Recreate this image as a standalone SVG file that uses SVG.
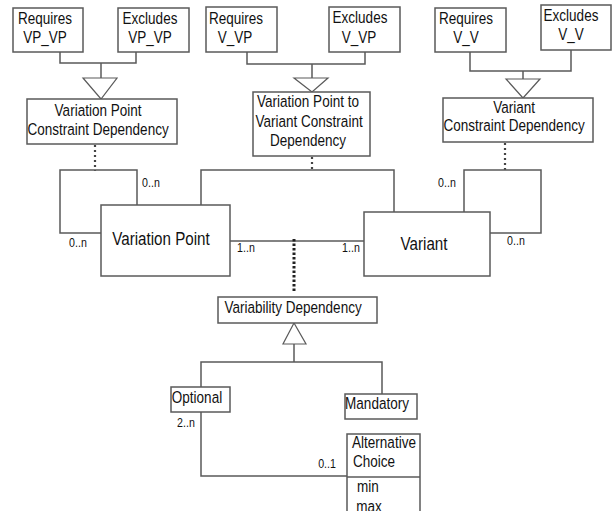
<svg xmlns="http://www.w3.org/2000/svg" width="616" height="511" viewBox="0 0 616 511">
<style>
  .box { fill: #fff; stroke: #5a5a5a; stroke-width: 1.5; }
  .ln { fill: none; stroke: #5a5a5a; stroke-width: 1.5; }
  .tri { fill: #fff; stroke: #5a5a5a; stroke-width: 1.2; }
  .dot { fill: none; stroke: #444; stroke-width: 2.2; stroke-dasharray: 2 3; }
  .dot2 { fill: none; stroke: #222; stroke-width: 3; stroke-dasharray: 2.5 2; }
  text { font-family: "Liberation Sans", Arial, sans-serif; fill: #111; text-anchor: middle;
         transform-box: fill-box; transform-origin: center; transform: scaleX(0.82); }
  .t { font-size: 16.5px; }
  .big { font-size: 18.5px; }
  .s { font-size: 13px; }
</style>
<rect width="616" height="511" fill="#fff"/>

<g id="connectors">
  <polyline class="ln" points="60,52 60,63 136,63 136,52"/>
  <line class="ln" x1="101" y1="63" x2="101" y2="78"/>
  <polygon class="tri" points="83,78 117,78 101,99"/>
  <polyline class="ln" points="247,52 247,64 365,64 365,52"/>
  <line class="ln" x1="312" y1="64" x2="312" y2="78"/>
  <polygon class="tri" points="294,78 328,78 312,92"/>
  <polyline class="ln" points="470,52 470,71 571,71 571,50"/>
  <line class="ln" x1="523" y1="71" x2="523" y2="79"/>
  <polygon class="tri" points="506,79 540,79 523,98"/>
  <line class="dot" x1="95" y1="145" x2="95" y2="171"/>
  <line class="dot" x1="312" y1="157" x2="312" y2="171"/>
  <line class="dot" x1="505" y1="143" x2="505" y2="171"/>
  <polyline class="ln" points="137,205 137,170 60,170 60,233 101,233"/>
  <polyline class="ln" points="201,205 201,170 394,170 394,212"/>
  <polyline class="ln" points="464,212 464,170 541,170 541,233 490,233"/>
  <line class="ln" x1="230" y1="241" x2="364" y2="241"/>
  <line class="dot2" x1="294" y1="239" x2="294" y2="293"/>
  <line class="ln" x1="294" y1="344" x2="294" y2="362"/>
  <polygon class="tri" points="294,323 283,344 306,344"/>
  <polyline class="ln" points="201,387 201,362 382,362 382,394"/>
  <polyline class="ln" points="201,412 201,476 347,476"/>
</g>

<g id="requires-vp-vp"><rect class="box" x="13" y="8" width="70" height="44"/>
  <text class="t" x="45" y="24">Requires</text><text class="t" x="45" y="43">VP_VP</text></g>
<g id="excludes-vp-vp"><rect class="box" x="118" y="8" width="71" height="44"/>
  <text class="t" x="150" y="24">Excludes</text><text class="t" x="150" y="43">VP_VP</text></g>
<g id="requires-v-vp"><rect class="box" x="206" y="7" width="71" height="45"/>
  <text class="t" x="236" y="24">Requires</text><text class="t" x="235" y="43">V_VP</text></g>
<g id="excludes-v-vp"><rect class="box" x="329" y="7" width="71" height="45"/>
  <text class="t" x="360" y="23">Excludes</text><text class="t" x="359" y="43">V_VP</text></g>
<g id="requires-v-v"><rect class="box" x="435" y="8" width="71" height="44"/>
  <text class="t" x="466" y="24">Requires</text><text class="t" x="466" y="43">V_V</text></g>
<g id="excludes-v-v"><rect class="box" x="541" y="5" width="70" height="45"/>
  <text class="t" x="571" y="21">Excludes</text><text class="t" x="571" y="40">V_V</text></g>

<g id="vp-constraint"><rect class="box" x="27" y="99" width="150" height="45"/>
  <text class="t" x="98" y="116">Variation Point</text><text class="t" x="98" y="135">Constraint Dependency</text></g>
<g id="vp-variant-constraint"><rect class="box" x="253" y="92" width="117" height="64"/>
  <text class="t" x="308" y="107">Variation Point to</text><text class="t" x="309" y="127">Variant Constraint</text><text class="t" x="308" y="146">Dependency</text></g>
<g id="variant-constraint"><rect class="box" x="443" y="98" width="150" height="44"/>
  <text class="t" x="514" y="113">Variant</text><text class="t" x="514" y="131">Constraint Dependency</text></g>

<g id="variation-point"><rect class="box" x="101" y="205" width="129" height="71"/>
  <text class="big" x="161" y="245">Variation Point</text></g>
<g id="variant"><rect class="box" x="364" y="212" width="126" height="64"/>
  <text class="big" x="424" y="250">Variant</text></g>

<g id="labels">
  <text class="s" x="151" y="187">0..n</text>
  <text class="s" x="78" y="247">0..n</text>
  <text class="s" x="246" y="252">1..n</text>
  <text class="s" x="351" y="252">1..n</text>
  <text class="s" x="447" y="187">0..n</text>
  <text class="s" x="516" y="245">0..n</text>
  <text class="s" x="186" y="427">2..n</text>
  <text class="s" x="327" y="468">0..1</text>
</g>

<g id="variability-dependency"><rect class="box" x="218" y="297" width="159" height="26"/>
  <text class="t" x="293" y="313">Variability Dependency</text></g>
<g id="optional"><rect class="box" x="171" y="387" width="59" height="25"/>
  <text class="t" x="197" y="403">Optional</text></g>
<g id="mandatory"><rect class="box" x="345" y="394" width="72" height="25"/>
  <text class="t" x="377" y="409">Mandatory</text></g>
<g id="alternative-choice"><rect class="box" x="347" y="434" width="73" height="84"/>
  <line class="ln" x1="347" y1="477" x2="420" y2="477"/>
  <text class="t" x="384" y="448">Alternative</text><text class="t" x="374" y="467">Choice</text>
  <text class="t" x="368" y="492">min</text><text class="t" x="369" y="512">max</text></g>
</svg>
